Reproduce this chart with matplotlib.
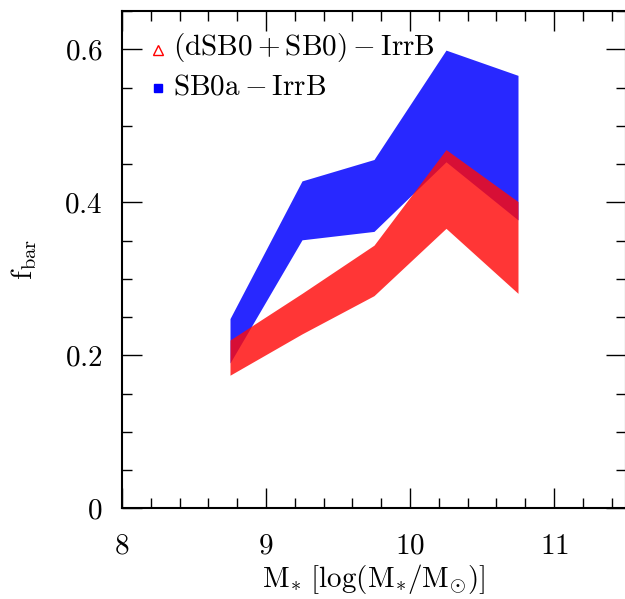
import matplotlib
matplotlib.use("Agg")
import matplotlib.pyplot as plt
from matplotlib.ticker import MultipleLocator, FuncFormatter

plt.rcParams['mathtext.fontset'] = 'cm'
plt.rcParams['font.family'] = ['serif']
plt.rcParams['font.serif'] = ['cmr10', 'DejaVu Serif']
plt.rcParams['axes.formatter.use_mathtext'] = True

# Data
mass = [8.75, 9.25, 9.75, 10.25, 10.75]
sb0a_low = [0.190, 0.351, 0.362, 0.453, 0.377]
sb0a_high = [0.248, 0.428, 0.456, 0.599, 0.566]
dsb0_low = [0.174, 0.228, 0.278, 0.366, 0.281]
dsb0_high = [0.220, 0.281, 0.344, 0.469, 0.401]

label_red = r'$\mathrm{(dSB0+SB0)}-\mathrm{IrrB}$'
label_blue = r'$\mathrm{SB0a}-\mathrm{IrrB}$'

fig = plt.figure(figsize=(6.25, 5.99), dpi=100)
ax = fig.add_axes([0.1952, 0.1514, 0.8064, 0.8307])

ax.fill_between(mass, sb0a_low, sb0a_high, color='#2828ff', linewidth=0)
ax.fill_between(mass, dsb0_low, dsb0_high, color='#ff0a0a', alpha=0.82, linewidth=0)

ax.set_xlim(8, 11.5)
ax.set_ylim(0, 0.6505)

ax.xaxis.set_major_locator(MultipleLocator(1))
ax.xaxis.set_minor_locator(MultipleLocator(0.2))
ax.yaxis.set_major_locator(MultipleLocator(0.2))
ax.yaxis.set_minor_locator(MultipleLocator(0.05))
ax.xaxis.set_major_formatter(FuncFormatter(lambda v, p: r'$\mathrm{%g}$' % round(v, 3)))
ax.yaxis.set_major_formatter(FuncFormatter(lambda v, p: r'$\mathrm{%g}$' % round(v, 3)))

ax.tick_params(which='both', direction='in', top=True, right=True, color='black')
ax.tick_params(which='major', length=14.4, width=1.0, labelsize=21)
ax.tick_params(axis='x', which='major', pad=18)
ax.tick_params(axis='y', which='major', pad=14)
ax.tick_params(which='minor', length=7.2, width=1.0)
for s in ax.spines.values():
    s.set_linewidth(1.5)

ax.set_xlabel(r'$\mathrm{M}_{*}\ [\log(\mathrm{M}_{*}/\mathrm{M}_{\odot})]$', fontsize=21, labelpad=2)
ax.set_ylabel(r'$\mathrm{f}_{\mathrm{bar}}$', fontsize=21, labelpad=18)

# legend drawn manually
ax.plot([0.0709], [0.921], transform=ax.transAxes, marker='^', markersize=7,
        markerfacecolor='none', markeredgecolor='red', markeredgewidth=1.0, linestyle='none')
ax.plot([0.0709], [0.845], transform=ax.transAxes, marker='s', markersize=6,
        markerfacecolor='blue', markeredgecolor='blue', linestyle='none')
ax.text(0.101, 0.927, label_red, transform=ax.transAxes, fontsize=21, va='center', ha='left')
ax.text(0.101, 0.847, label_blue, transform=ax.transAxes, fontsize=21, va='center', ha='left')

fig.savefig('out.png', dpi=100)
